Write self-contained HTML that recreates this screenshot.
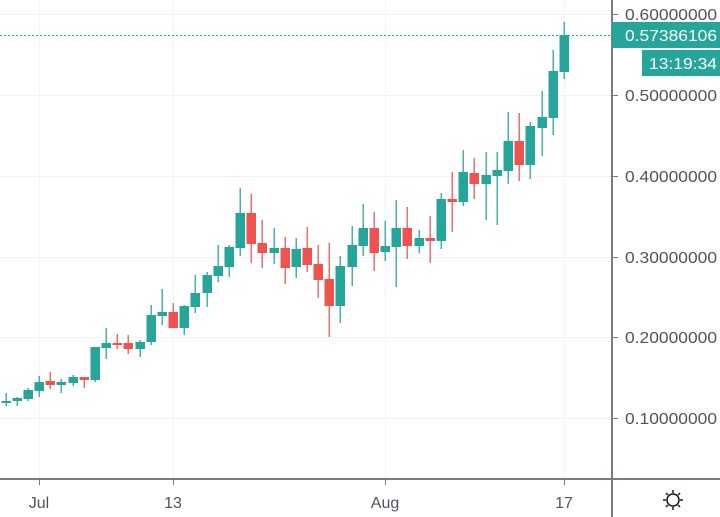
<!DOCTYPE html>
<html><head><meta charset="utf-8"><style>
html,body{margin:0;padding:0;background:#fff;}
svg{display:block;font-family:"Liberation Sans",sans-serif;}
</style></head><body>
<svg id="s" width="720" height="517" viewBox="0 0 720 517" xmlns="http://www.w3.org/2000/svg">
<rect width="720" height="517" fill="#fff"/>
<g stroke="#f0f3fa" stroke-width="1">
<line x1="0" y1="14.5" x2="612" y2="14.5"/>
<line x1="0" y1="95.5" x2="612" y2="95.5"/>
<line x1="0" y1="176.5" x2="612" y2="176.5"/>
<line x1="0" y1="257.5" x2="612" y2="257.5"/>
<line x1="0" y1="337.5" x2="612" y2="337.5"/>
<line x1="0" y1="418.5" x2="612" y2="418.5"/>
<line x1="39.5" y1="0" x2="39.5" y2="479"/>
<line x1="173.5" y1="0" x2="173.5" y2="479"/>
<line x1="385.5" y1="0" x2="385.5" y2="479"/>
<line x1="564.5" y1="0" x2="564.5" y2="479"/>
</g>
<g id="c"></g>
<line x1="0" y1="35.5" x2="612" y2="35.5" stroke="#26a69a" stroke-dasharray="2,2"/>
<g stroke="#787b86" stroke-width="2">
<line x1="612" y1="0" x2="612" y2="517"/>
<line x1="0" y1="479" x2="720" y2="479"/>
</g>
<g stroke="#787b86" stroke-width="1">
<line x1="612" y1="14.5" x2="618" y2="14.5"/>
<line x1="612" y1="95.5" x2="618" y2="95.5"/>
<line x1="612" y1="176.5" x2="618" y2="176.5"/>
<line x1="612" y1="257.5" x2="618" y2="257.5"/>
<line x1="612" y1="337.5" x2="618" y2="337.5"/>
<line x1="612" y1="418.5" x2="618" y2="418.5"/>
<line x1="39.5" y1="479" x2="39.5" y2="485"/>
<line x1="173.5" y1="479" x2="173.5" y2="485"/>
<line x1="385.5" y1="479" x2="385.5" y2="485"/>
<line x1="564.5" y1="479" x2="564.5" y2="485"/>
</g>
<g fill="#50535e" font-size="16">
<text x="625" y="20" textLength="92" lengthAdjust="spacingAndGlyphs">0.60000000</text>
<text x="625" y="101" textLength="92" lengthAdjust="spacingAndGlyphs">0.50000000</text>
<text x="625" y="182" textLength="92" lengthAdjust="spacingAndGlyphs">0.40000000</text>
<text x="625" y="263" textLength="92" lengthAdjust="spacingAndGlyphs">0.30000000</text>
<text x="625" y="343" textLength="92" lengthAdjust="spacingAndGlyphs">0.20000000</text>
<text x="625" y="424" textLength="92" lengthAdjust="spacingAndGlyphs">0.10000000</text>
<text x="39" y="508" text-anchor="middle">Jul</text>
<text x="173" y="508" text-anchor="middle">13</text>
<text x="385" y="508" text-anchor="middle">Aug</text>
<text x="564" y="508" text-anchor="middle">17</text>
</g>
<rect x="612" y="22" width="108" height="26" fill="#26a69a"/>
<rect x="642" y="50" width="78" height="26" fill="#26a69a"/>
<g fill="#fff" font-size="16">
<text x="625" y="41" textLength="92" lengthAdjust="spacingAndGlyphs">0.57386106</text>
<text x="649" y="69" textLength="68" lengthAdjust="spacingAndGlyphs">13:19:34</text>
</g>
<g stroke="#131722" stroke-width="1.5" fill="none">
<circle cx="673" cy="500" r="6"/>
<line x1="673" y1="490" x2="673" y2="493"/><line x1="673" y1="507" x2="673" y2="510"/>
<line x1="663" y1="500" x2="666" y2="500"/><line x1="680" y1="500" x2="683" y2="500"/>
<line x1="666" y1="493" x2="668" y2="495"/><line x1="678" y1="505" x2="680" y2="507"/>
<line x1="680" y1="493" x2="678" y2="495"/><line x1="666" y1="507" x2="668" y2="505"/>
</g>
</svg>
<script>
var d=[
[6,401,401,393,406,1],[17,398,401,397,406,1],[28,390,399,388,401,1],[39,382,391,376,397,1],
[50,381,385,372,389,0],[61,382,385,379,393,1],[73,377,383,375,386,1],[84,377,380,377,388,0],
[95,347,380,347,382,1],[106,343,348,328,359,1],[117,343,344,334,349,0],[128,343,349,335,354,0],
[140,342,349,340,357,1],[151,315,342,305,345,1],[162,312,316,289,325,1],[173,312,328,303,328,0],
[184,306,328,305,335,1],[195,293,307,275,313,1],[207,275,293,272,307,1],[218,266,276,245,282,1],
[229,247,267,245,277,1],[240,213,248,188,256,1],[251,213,244,194,263,0],[262,243,253,220,268,0],
[274,248,253,228,264,1],[285,248,268,237,284,0],[296,249,267,238,278,1],[307,248,265,227,272,0],
[318,264,280,245,298,0],[329,279,306,243,337,0],[340,266,306,256,323,1],[352,245,267,226,286,1],
[363,228,246,204,256,1],[374,228,253,212,271,0],[385,246,252,221,261,1],[396,228,247,200,287,1],
[407,228,246,207,259,0],[419,238,246,230,253,1],[430,238,241,216,263,0],[441,199,241,193,249,1],
[452,199,202,172,232,0],[463,172,202,150,206,1],[474,173,184,158,199,0],[486,175,184,152,220,1],
[497,170,176,152,225,1],[508,141,171,112,184,1],[519,141,165,113,181,0],[530,126,165,122,179,1],
[542,117,128,91,156,1],[553,71,118,50,135,1],[564,35,72,22,79,1]];
var g=document.getElementById('c'),h='';
d.forEach(function(c){var col=c[5]?'#26a69a':'#ef5350';var x=c[0];
h+='<rect x="'+(x-0.5)+'" y="'+c[3]+'" width="1.5" height="'+(c[4]-c[3])+'" fill="'+col+'" opacity="0.85"/>';
var hh=Math.max(2,c[2]-c[1]);
h+='<rect x="'+(x-4.5)+'" y="'+c[1]+'" width="9.5" height="'+hh+'" fill="'+col+'"/>';});
g.innerHTML=h;
</script>
</body></html>
